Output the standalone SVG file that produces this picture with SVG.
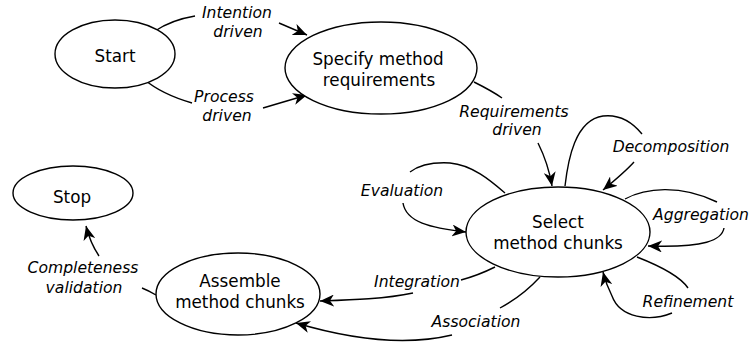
<svg xmlns="http://www.w3.org/2000/svg" width="750" height="347" viewBox="0 0 750 347">
<style>
.node ellipse{fill:#fff;stroke:#000;stroke-width:1.4}
.node text{font-family:"DejaVu Sans",Verdana,sans-serif;font-size:16.8px;fill:#000;text-anchor:middle}
.lbl{font-family:"DejaVu Sans",Verdana,sans-serif;font-size:15.6px;font-style:italic;fill:#000;text-anchor:middle}
.edges path{fill:none;stroke:#000;stroke-width:1.4}
.arr{marker-end:url(#ah)}
</style>
<defs>
<marker id="ah" markerUnits="userSpaceOnUse" markerWidth="16" markerHeight="12" refX="14" refY="6" orient="auto">
<path d="M0,0 L14,6 L0,12 L4,6 z" fill="#000"/>
</marker>
</defs>
<rect width="750" height="347" fill="#fff"/>
<g class="edges">
<path d="M155,31 C170,21 183,18 195,16"/>
<path class="arr" d="M279,23 L307,35"/>
<path d="M145,80 C158,91 175,98 192,103"/>
<path class="arr" d="M263,108 L307,95"/>
<path d="M474,82 C486,88 495,93 502,98"/>
<path class="arr" d="M538,143 C544,155 549,168 552,186"/>
<path d="M565,186 C568,160 575,120 603,116 C620,114 633,123 642,134"/>
<path class="arr" d="M634,162 C625,172 614,181 603,190"/>
<path d="M505,193 C490,180 472,165 450,163 C432,162 418,166 410,172"/>
<path class="arr" d="M403,203 C406,222 430,228 466,232"/>
<path d="M625,199 C645,188 680,184 717,202"/>
<path class="arr" d="M724,228 C722,240 705,248 648,246"/>
<path d="M637,257 C660,266 680,276 688,288"/>
<path class="arr" d="M672,313 C650,322 620,318 612,296 C608,288 605,280 603,272"/>
<path d="M495,267 C485,272 472,277 461,280"/>
<path class="arr" d="M413,293 C385,299 350,300 320,301"/>
<path d="M540,277 C528,290 515,300 500,308"/>
<path class="arr" d="M452,335 C410,345 360,342 296,323"/>
<path d="M156,295 C151,292 147,290 142,288"/>
<path class="arr" d="M99,256 C93,247 89,238 86,226"/>
</g>
<g id="start" class="node"><ellipse cx="115" cy="54" rx="60" ry="34"/><text x="115" y="62">Start</text></g>
<g id="specify" class="node"><ellipse cx="381" cy="68" rx="96" ry="46"/><text x="378" y="65">Specify method</text><text x="379" y="86">requirements</text></g>
<g id="select" class="node"><ellipse cx="558" cy="232" rx="92" ry="45"/><text x="558" y="228">Select</text><text x="558" y="249">method chunks</text></g>
<g id="assemble" class="node"><ellipse cx="238" cy="294" rx="82" ry="41"/><text x="240" y="287">Assemble</text><text x="240" y="308">method chunks</text></g>
<g id="stop" class="node"><ellipse cx="73" cy="193" rx="60" ry="27"/><text x="72" y="203">Stop</text></g>
<g id="labels">
<text class="lbl" x="237" y="18">Intention</text><text class="lbl" x="238" y="37">driven</text>
<text class="lbl" x="224" y="102">Process</text><text class="lbl" x="227" y="121">driven</text>
<text class="lbl" x="514" y="117">Requirements</text><text class="lbl" x="517" y="135">driven</text>
<text class="lbl" x="671" y="152">Decomposition</text>
<text class="lbl" x="402" y="196">Evaluation</text>
<text class="lbl" x="701" y="220">Aggregation</text>
<text class="lbl" x="688" y="307">Refinement</text>
<text class="lbl" x="417" y="287">Integration</text>
<text class="lbl" x="476" y="327">Association</text>
<text class="lbl" x="83" y="273">Completeness</text><text class="lbl" x="84" y="293">validation</text>
</g>
</svg>
